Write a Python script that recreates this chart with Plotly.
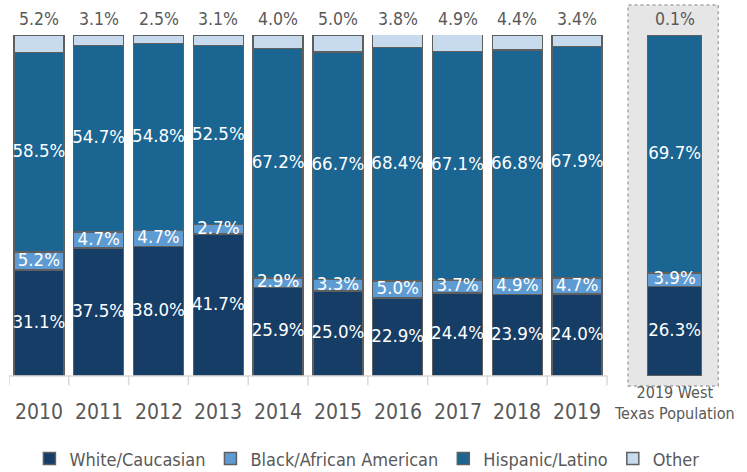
import plotly.graph_objects as go
import numpy as np

categories = ["2010", "2011", "2012", "2013", "2014", "2015", "2016", "2017", "2018", "2019",
              "2019 West<br>Texas Population"]
white = [31.1, 37.5, 38.0, 41.7, 25.9, 25.0, 22.9, 24.4, 23.9, 24.0, 26.3]
black = [5.2, 4.7, 4.7, 2.7, 2.9, 3.3, 5.0, 3.7, 4.9, 4.7, 3.9]
hispanic = [58.5, 54.7, 54.8, 52.5, 67.2, 66.7, 68.4, 67.1, 66.8, 67.9, 69.7]
other = [5.2, 3.1, 2.5, 3.1, 4.0, 5.0, 3.8, 4.9, 4.4, 3.4, 0.1]

series_names = ["White/Caucasian", "Black/African American", "Hispanic/Latino", "Other"]
colors = ["#163D66", "#5E9BD2", "#1A6592", "#C8DBEE"]

FONT = "DejaVu Sans Condensed, Roboto, sans-serif"
GRAY = "#595959"

# numeric positions: 10 years evenly, the regional comparison set apart
xpos = list(range(10)) + [10.63]
widths = [0.836] * 10 + [0.9]

fig = go.Figure()
vals = [white, black, hispanic, other]
for name, v, c in zip(series_names, vals, colors):
    fig.add_trace(go.Bar(x=xpos, y=v, width=widths, name=name,
                         marker=dict(color=c, line=dict(color="#5F5F5F", width=1.5)),
                         hoverinfo="skip", cliponaxis=False))

# inside labels as text drawn above all bars
base = np.zeros(len(xpos))
for v in vals[:3]:
    arr = np.array(v)
    mid = base + arr / 2
    fig.add_trace(go.Scatter(x=xpos, y=mid, mode="text",
                             text=[f"{x:.1f}%" for x in v],
                             textfont=dict(family=FONT, size=18.5, color="white"),
                             showlegend=False, hoverinfo="skip", cliponaxis=False))
    base = base + arr
total = base + np.array(other)

annotations = []
# "Other" labels above each stack
for k in range(len(xpos)):
    annotations.append(dict(x=xpos[k], y=min(total[k], 100.0), xref="x", yref="y",
                            text=f"{other[k]:.1f}%",
                            showarrow=False, yanchor="bottom", yshift=4,
                            font=dict(family=FONT, size=17.5, color=GRAY)))

shapes = []
# gray dashed box around the regional bar
shapes.append(dict(type="rect", xref="x", yref="paper", x0=9.85, x1=11.36, y0=-0.029, y1=1.088,
                   fillcolor="#E6E6E6", line=dict(color="#A6A6A6", width=1.5, dash="dot"),
                   layer="below"))
# baseline and category tick marks
shapes.append(dict(type="line", xref="x", yref="paper", x0=-0.5, x1=9.5, y0=0, y1=0,
                   line=dict(color="#D9D9D9", width=1.5)))
for k in range(11):
    shapes.append(dict(type="line", xref="x", yref="paper", x0=k - 0.5, x1=k - 0.5, y0=0, y1=-0.027,
                       line=dict(color="#D9D9D9", width=1.5)))

for k in range(10):
    annotations.append(dict(x=xpos[k], y=-0.106, xref="x", yref="paper", text=categories[k],
                            showarrow=False, yanchor="middle",
                            font=dict(family=FONT, size=21, color=GRAY)))
annotations.append(dict(x=xpos[10], y=-0.08, xref="x", yref="paper", text=categories[10],
                        showarrow=False, yanchor="middle",
                        font=dict(family=FONT, size=16, color=GRAY)))

fig.update_layout(
    barmode="stack", width=747, height=472,
    margin=dict(l=9, r=0, t=35, b=96, autoexpand=False),
    paper_bgcolor="white", plot_bgcolor="rgba(0,0,0,0)",
    xaxis=dict(range=[-0.5, 11.84], visible=False),
    yaxis=dict(range=[0, 100], visible=False),
    shapes=shapes, annotations=annotations,
    showlegend=True,
    legend=dict(orientation="h", x=0.485, xanchor="center",
                yref="container", y=0.028, yanchor="middle",
                font=dict(family=FONT, size=18, color=GRAY), traceorder="normal",
                itemclick=False),
    hovermode=False,
)

fig.write_html("out.html")
